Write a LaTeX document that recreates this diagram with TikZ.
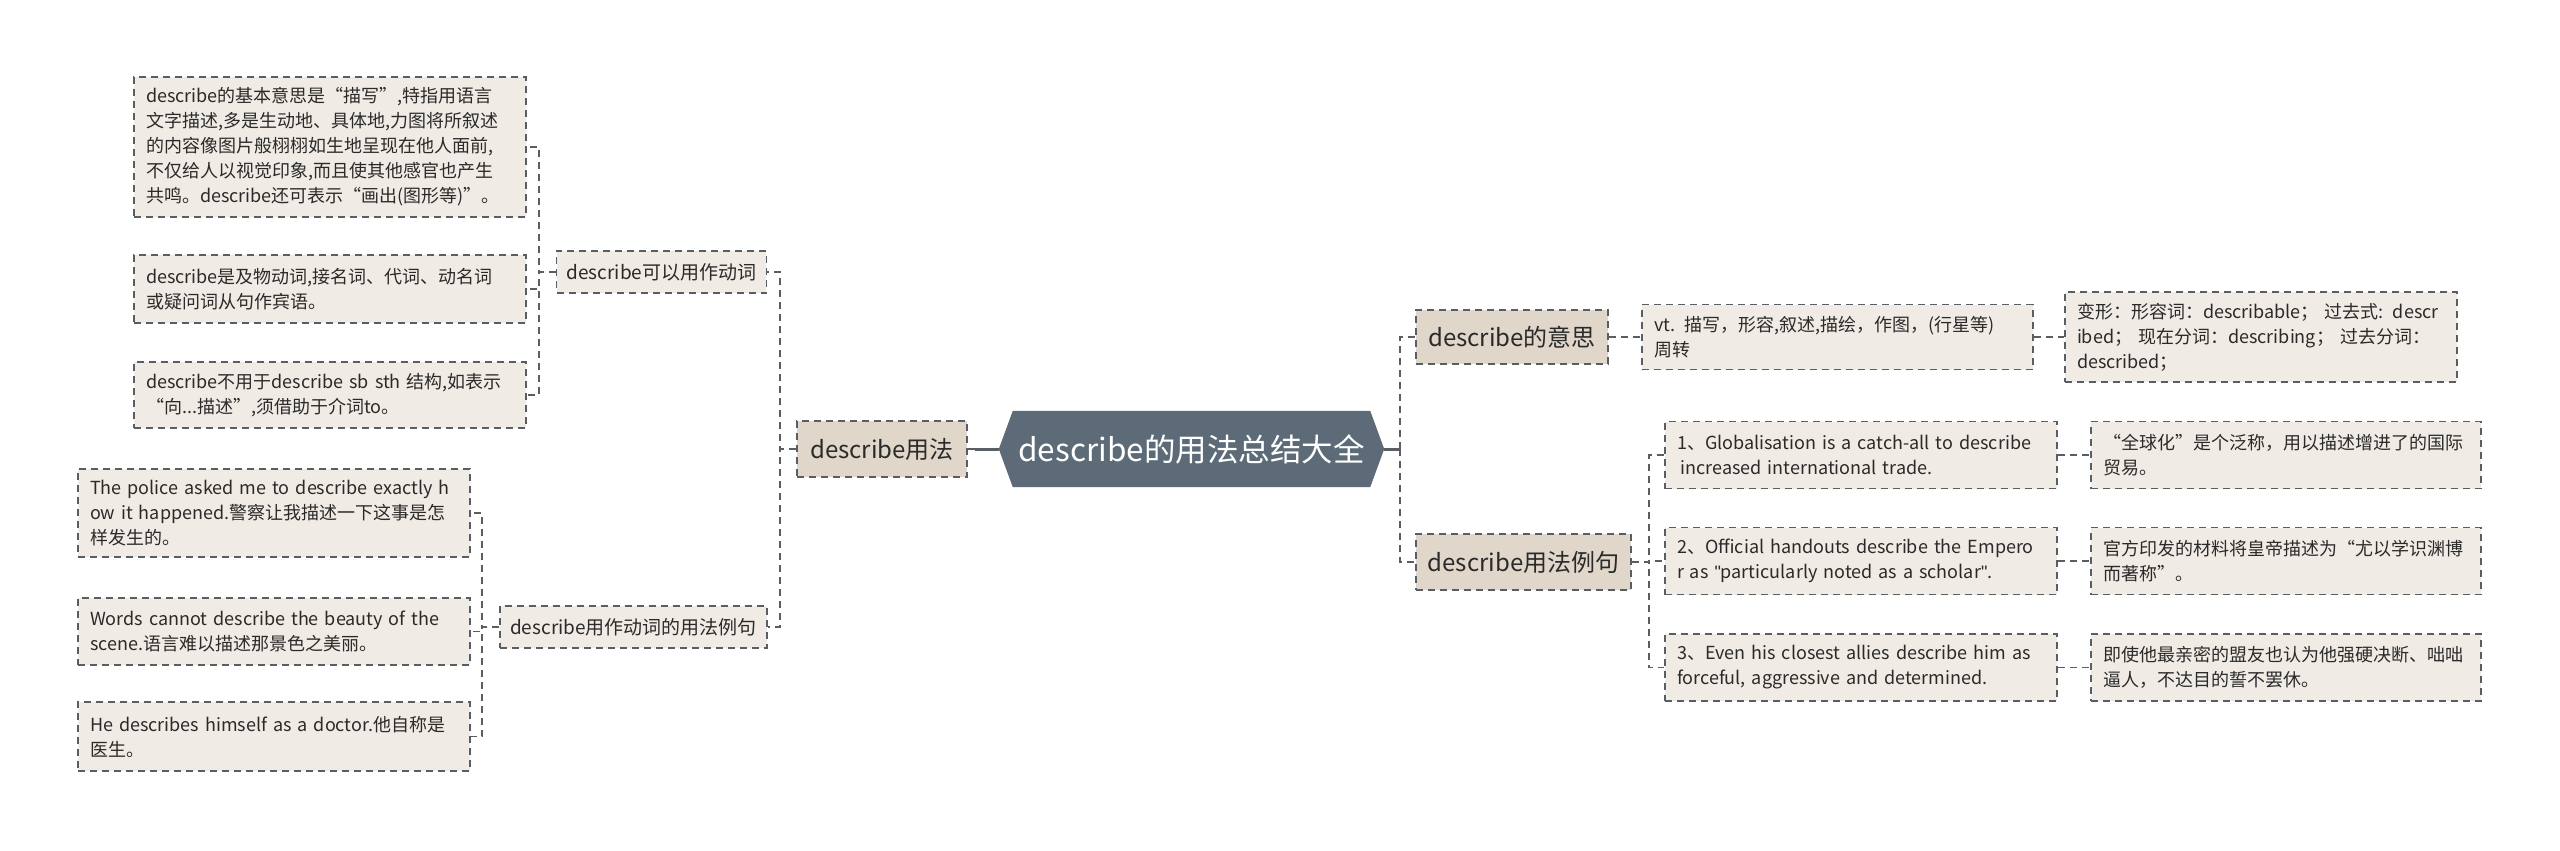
\documentclass[tikz,border=0pt]{standalone}
\usepackage{fontspec}
\setmainfont{Noto Sans CJK SC}
\usetikzlibrary{backgrounds}
\definecolor{bord}{HTML}{585E64}
\definecolor{leaffill}{HTML}{F0ECE5}
\definecolor{mainfill}{HTML}{E0D7CA}
\definecolor{rootfill}{HTML}{5C6B77}
\definecolor{txt}{HTML}{2A2A2A}
\tikzset{
  basebox/.style={draw=bord, line width=1.6pt, dash pattern=on 7pt off 5pt, text=txt,
    inner xsep=12pt, inner ysep=3pt, align=left, rectangle},
  leafbox/.style={basebox, fill=leaffill, font=\fontsize{18}{25}\selectfont},
  midbox/.style={basebox, fill=leaffill, font=\fontsize{19}{24}\selectfont, inner xsep=10pt, align=center},
  mainbox/.style={basebox, fill=mainfill, font=\fontsize{24}{28}\selectfont, inner xsep=10pt, align=center},
  conn/.style={draw=bord, line width=1.8pt, dash pattern=on 7pt off 5pt},
  solidconn/.style={draw=bord, line width=3pt},
}
\begin{document}
\begin{tikzpicture}[x=1pt,y=-1pt]
\useasboundingbox (0,0) rectangle (2560,851);

% root
\node[minimum width=385pt, minimum height=76pt, inner sep=0pt, text=white,
  font=\fontsize{31.5}{36}\selectfont] (root) at (1191.5,449) {describe的用法总结大全};
\begin{scope}[on background layer]
\fill[white] (0,0) rectangle (2560,851);
\fill[rootfill] (root.west) -- ([xshift=14pt]root.north west) -- ([xshift=-14pt]root.north east)
  -- (root.east) -- ([xshift=-14pt]root.south east) -- ([xshift=14pt]root.south west) -- cycle;
\end{scope}

% left main
\node[mainbox, minimum width=170pt, minimum height=56pt] (B) at (882,449) {describe用法};
\node[midbox, minimum width=205pt, minimum height=42pt] (M1) at (661.5,272) {describe可以用作动词};
\node[midbox, minimum width=261pt, minimum height=42pt] (M2) at (633.5,627) {describe用作动词的用法例句};

\node[leafbox, text width=368pt, minimum height=140pt] (L1) at (330,147)
 {describe的基本意思是“描写”,特指用语言\\文字描述,多是生动地、具体地,力图将所叙述\\的内容像图片般栩栩如生地呈现在他人面前,\\不仅给人以视觉印象,而且使其他感官也产生\\共鸣。describe还可表示“画出(图形等)”。};
\node[leafbox, text width=368pt, minimum height=68pt] (L2) at (330,289)
 {describe是及物动词,接名词、代词、动名词\\或疑问词从句作宾语。};
\node[leafbox, text width=368pt, minimum height=66pt] (L3) at (330,395)
 {describe不用于describe sb sth 结构,如表示\\“向...描述”,须借助于介词to。};
\node[leafbox, text width=368pt, minimum height=88pt] (L4) at (274,513)
 {The police asked me to describe exactly h\\ow it happened.警察让我描述一下这事是怎\\样发生的。};
\node[leafbox, text width=368pt, minimum height=67pt] (L5) at (274,631.5)
 {Words cannot describe the beauty of the\\scene.语言难以描述那景色之美丽。};
\node[leafbox, text width=368pt, minimum height=69pt] (L6) at (274,736.5)
 {He describes himself as a doctor.他自称是\\医生。};

% right main
\node[mainbox, minimum width=192pt, minimum height=54pt] (R1) at (1512,337) {describe的意思};
\node[mainbox, minimum width=215pt, minimum height=56pt] (R2) at (1523.5,562) {describe用法例句};

\node[leafbox, text width=367pt, minimum height=65pt] (V) at (1837.5,337)
 {vt. 描写，形容,叙述,描绘，作图，(行星等)\\周转};
\node[leafbox, text width=368pt, minimum height=90pt] (F) at (2261,337)
 {变形：形容词：describable； 过去式: descr\\ibed； 现在分词：describing； 过去分词：\\described；};

\node[leafbox, text width=368pt, minimum height=67pt] (E1) at (1861,455)
 {1、Globalisation is a catch-all to describe\\\hspace{0.2em}increased international trade.};
\node[leafbox, text width=366pt, minimum height=67pt] (T1) at (2286,455)
 {“全球化”是个泛称，用以描述增进了的国际\\贸易。};
\node[leafbox, text width=368pt, minimum height=67pt] (E2) at (1861,561)
 {2、Official handouts describe the Empero\\r as {\fontspec{Liberation Sans}\char"22}particularly noted as a scholar{\fontspec{Liberation Sans}\char"22}.};
\node[leafbox, text width=366pt, minimum height=67pt] (T2) at (2286,561)
 {官方印发的材料将皇帝描述为“尤以学识渊博\\而著称”。};
\node[leafbox, text width=368pt, minimum height=67pt] (E3) at (1861,667.5)
 {3、Even his closest allies describe him as\\forceful, aggressive and determined.};
\node[leafbox, text width=366pt, minimum height=67pt] (T3) at (2286,667.5)
 {即使他最亲密的盟友也认为他强硬决断、咄咄\\逼人，不达目的誓不罢休。};

% connectors left
\draw[solidconn] (root.west) -- ++(-24,0) coordinate (rl);
\draw[conn] (rl) -- (B.east);
\draw[conn] (B.west) -- ++(-16,0) |- (M1.east);
\draw[conn] (B.west) -- ++(-16,0) |- (M2.east);
\draw[conn] (M1.west) -- ++(-17,0) |- (L1.east);
\draw[conn] (M1.west) -- ++(-17,0) |- (L2.east);
\draw[conn] (M1.west) -- ++(-17,0) |- (L3.east);
\draw[conn] (M2.west) -- ++(-17,0) |- (L4.east);
\draw[conn] (M2.west) -- ++(-17,0) |- (L5.east);
\draw[conn] (M2.west) -- ++(-17,0) |- (L6.east);

% connectors right
\draw[solidconn] (root.east) -- ++(16,0) coordinate (rb);
\draw[conn] (rb) |- (R1.west);
\draw[conn] (rb) |- (R2.west);
\draw[conn] (R1.east) -- (V.west);
\draw[conn] (V.east) -- (F.west);
\draw[conn] (R2.east) -- ++(17,0) |- (E1.west);
\draw[conn] (R2.east) -- ++(17,0) |- (E2.west);
\draw[conn] (R2.east) -- ++(17,0) |- (E3.west);
\draw[conn] (E1.east) -- (T1.west);
\draw[conn] (E2.east) -- (T2.west);
\draw[conn] (E3.east) -- (T3.west);
\end{tikzpicture}
\end{document}
